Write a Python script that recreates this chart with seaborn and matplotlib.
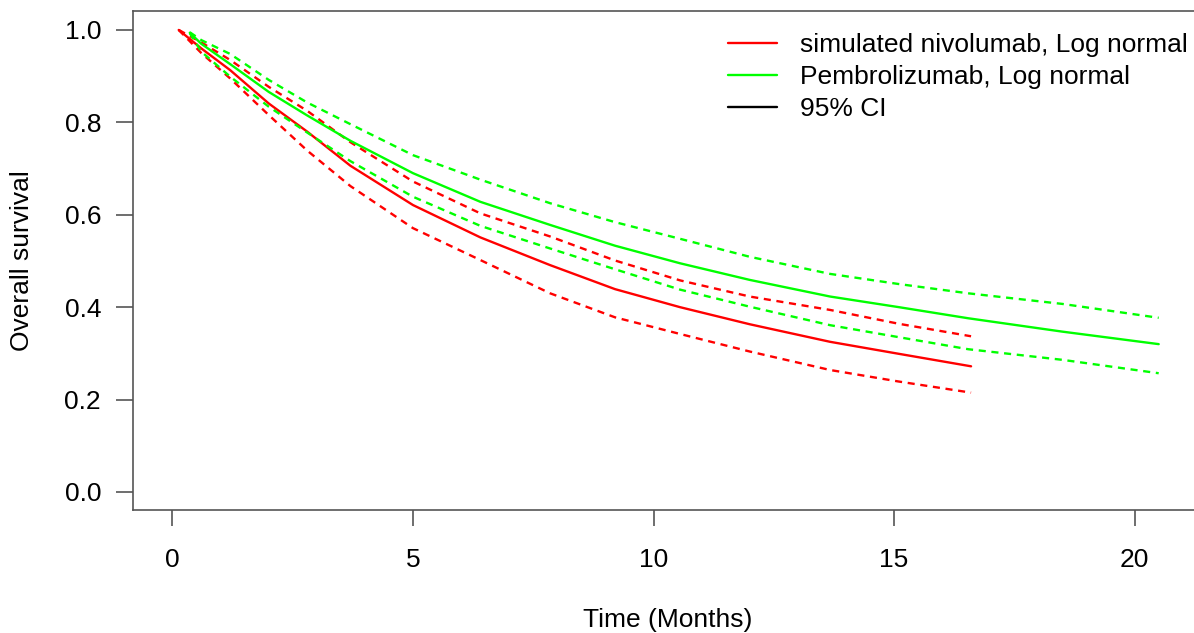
import matplotlib
matplotlib.use("Agg")
import matplotlib.pyplot as plt
import seaborn as sns
from matplotlib.lines import Line2D

# ---- data ----
t_niv = [0.13, 0.6, 1.2, 2.0, 2.8, 3.7, 5.0, 6.4, 7.85, 9.2, 10.55, 12.0, 13.67, 15.1, 16.6]
niv = [1.0, 0.960, 0.913, 0.841, 0.780, 0.706, 0.621, 0.551, 0.491, 0.439, 0.400, 0.363, 0.325, 0.299, 0.272]
niv_hi = [1.0, 0.973, 0.935, 0.877, 0.825, 0.757, 0.672, 0.603, 0.553, 0.501, 0.458, 0.423, 0.394, 0.364, 0.337]
niv_lo = [1.0, 0.950, 0.895, 0.816, 0.739, 0.662, 0.571, 0.502, 0.430, 0.378, 0.342, 0.304, 0.264, 0.239, 0.215]

t_pem = [0.36, 0.6, 1.2, 2.0, 2.8, 3.7, 5.0, 6.4, 7.85, 9.2, 10.55, 12.0, 13.67, 15.1, 16.54, 18.5, 20.5]
pem = [0.994, 0.970, 0.926, 0.866, 0.815, 0.760, 0.690, 0.628, 0.578, 0.533, 0.495, 0.459, 0.423, 0.400, 0.376, 0.347, 0.320]
pem_hi = [0.995, 0.978, 0.948, 0.892, 0.843, 0.796, 0.729, 0.676, 0.625, 0.584, 0.548, 0.509, 0.472, 0.450, 0.430, 0.407, 0.377]
pem_lo = [0.993, 0.953, 0.899, 0.834, 0.778, 0.716, 0.639, 0.576, 0.527, 0.482, 0.438, 0.401, 0.361, 0.335, 0.309, 0.286, 0.257]

legend_labels = ["simulated nivolumab, Log normal", "Pembrolizumab, Log normal", "95% CI"]
x_ticks = [0, 5, 10, 15, 20]
y_ticks = [0.0, 0.2, 0.4, 0.6, 0.8, 1.0]
y_tick_labels = ["0.0", "0.2", "0.4", "0.6", "0.8", "1.0"]

# ---- style ----
sns.set_style("white")
plt.rcParams["font.family"] = ["Liberation Sans", "DejaVu Sans"]
plt.rcParams["text.color"] = "black"
plt.rcParams["axes.labelcolor"] = "black"
FS = 19
RED = "#FF0000"
GREEN = "#00FF00"
AXC = "#555555"

fig = plt.figure(figsize=(11.94, 6.33), dpi=100)
ax = fig.add_axes([133 / 1194, 123 / 633, 1069 / 1194, 499 / 633])

lw = 1.7
dash = (3, 2.4)
sns.lineplot(x=t_niv, y=niv, color=RED, lw=lw, ax=ax, sort=False)
sns.lineplot(x=t_niv, y=niv_hi, color=RED, lw=lw, ax=ax, sort=False).lines[-1].set_dashes(dash)
sns.lineplot(x=t_niv, y=niv_lo, color=RED, lw=lw, ax=ax, sort=False).lines[-1].set_dashes(dash)
sns.lineplot(x=t_pem, y=pem, color=GREEN, lw=lw, ax=ax, sort=False)
sns.lineplot(x=t_pem, y=pem_hi, color=GREEN, lw=lw, ax=ax, sort=False).lines[-1].set_dashes(dash)
sns.lineplot(x=t_pem, y=pem_lo, color=GREEN, lw=lw, ax=ax, sort=False).lines[-1].set_dashes(dash)

ax.set_xlim(-0.82, 21.4)
ax.set_ylim(-0.039, 1.041)
ax.set_xticks(x_ticks)
ax.set_xticklabels([str(v) for v in x_ticks])
ax.set_yticks(y_ticks)
ax.set_yticklabels(y_tick_labels)

for s in ax.spines.values():
    s.set_visible(True)
    s.set_color(AXC)
    s.set_linewidth(1.2)

ax.tick_params(axis="x", length=11.5, width=1.2, color=AXC, labelsize=FS, pad=16, labelcolor="black")
ax.tick_params(axis="y", length=12, width=1.2, color=AXC, labelsize=FS, pad=11, labelcolor="black")
ax.tick_params(bottom=True, left=True)

ax.set_xlabel("Time (Months)", fontsize=FS, color="black")
ax.xaxis.set_label_coords(0.5, -0.196)
ax.set_ylabel("Overall survival", fontsize=FS, va="center", color="black")
ax.yaxis.set_label_coords(-0.1038, 0.5)

handles = [Line2D([], [], color=RED, lw=lw),
           Line2D([], [], color=GREEN, lw=lw),
           Line2D([], [], color="black", lw=lw)]
ax.legend(handles, legend_labels, loc="upper left", frameon=False,
          bbox_to_anchor=(728 / 1194, 1 - 33 / 633), bbox_transform=fig.transFigure,
          fontsize=FS, borderpad=0, borderaxespad=0, handlelength=1.86,
          handletextpad=0.87, labelspacing=0.3)

fig.savefig("out.png", dpi=100)
